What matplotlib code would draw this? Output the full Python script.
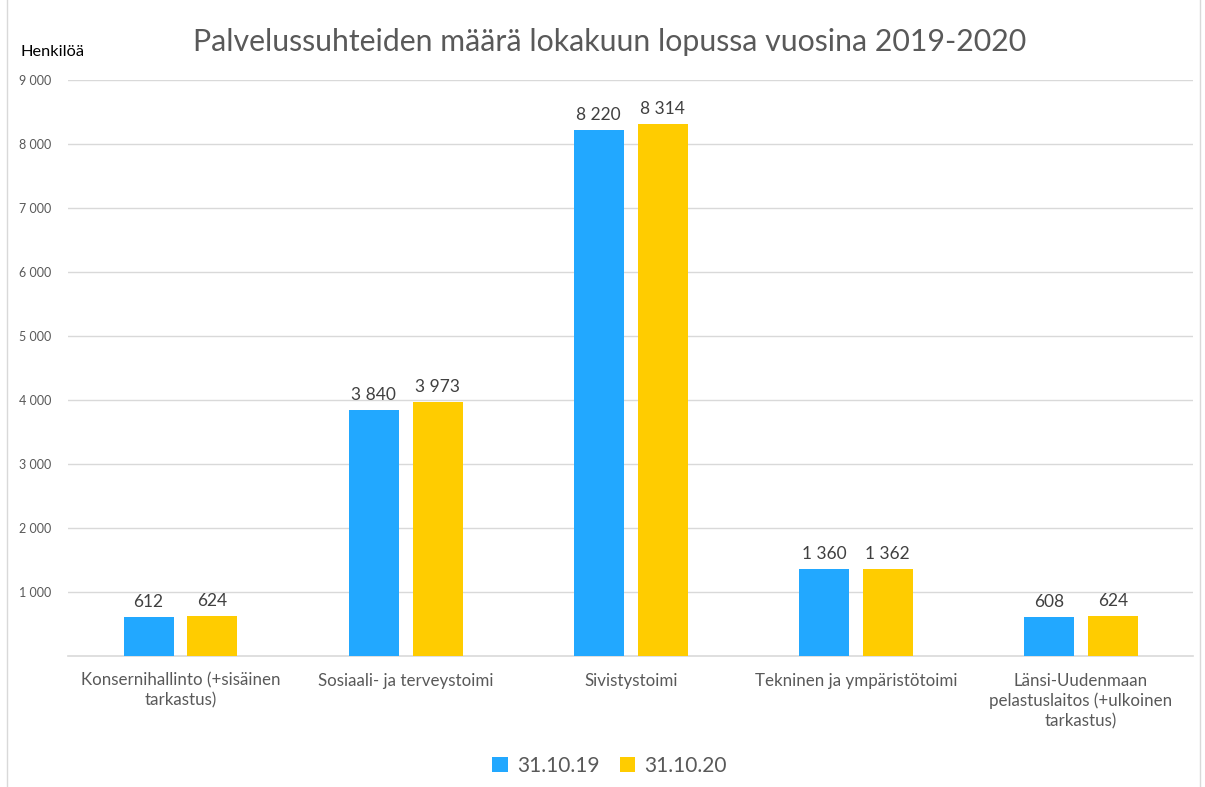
import matplotlib.pyplot as plt
import numpy as np
from matplotlib.patches import Rectangle

categories = ["Konsernihallinto (+sisäinen\ntarkastus)",
              "Sosiaali- ja terveystoimi",
              "Sivistystoimi",
              "Tekninen ja ympäristötoimi",
              "Länsi-Uudenmaan\npelastuslaitos (+ulkoinen\ntarkastus)"]
series_names = ["31.10.19", "31.10.20"]
values_2019 = [612, 3840, 8220, 1360, 608]
values_2020 = [624, 3973, 8314, 1362, 624]
y_ticks = [1000, 2000, 3000, 4000, 5000, 6000, 7000, 8000, 9000]

colors = ["#22A8FF", "#FFCC00"]
txt_grey = "#595959"

plt.rcParams['font.family'] = ['Lato', 'DejaVu Sans']

fig = plt.figure(figsize=(12.05, 7.87), dpi=100)
ax = fig.add_axes([0.0564, 0.1665, 0.934, 0.7319])

x = np.arange(len(categories))
w = 0.222
gap = 0.062
off = (w + gap) / 2
b1 = ax.bar(x - off, values_2019, w, color=colors[0], label=series_names[0], zorder=3)
b2 = ax.bar(x + off, values_2020, w, color=colors[1], label=series_names[1], zorder=3)

def fmt(v):
    return f"{v:,}".replace(",", " ")

for bars, vals in ((b1, values_2019), (b2, values_2020)):
    for r, v in zip(bars, vals):
        ax.annotate(fmt(v), (r.get_x() + r.get_width() / 2, v), xytext=(0, 5),
                    textcoords="offset points", ha="center", va="bottom",
                    fontsize=12.5, color="#404040")

ax.set_xlim(-0.5, len(categories) - 0.5)
ax.set_ylim(0, 9000)
ax.set_yticks(y_ticks)
ax.set_yticklabels([fmt(t) for t in y_ticks], fontsize=9, color=txt_grey)
ax.set_xticks(x)
ax.set_xticklabels(categories, fontsize=12.2, color=txt_grey, linespacing=1.3)
ax.tick_params(axis="both", length=0)
ax.tick_params(axis="y", pad=12)
ax.tick_params(axis="x", pad=12)
ax.grid(axis="y", color="#D9D9D9", lw=1, zorder=0)
for s in ["top", "right", "left"]:
    ax.spines[s].set_visible(False)
ax.spines["bottom"].set_color("#D9D9D9")
ax.spines["bottom"].set_linewidth(1.2)

fig.text(0.506, 0.947, "Palvelussuhteiden määrä lokakuun lopussa vuosina 2019-2020",
         ha="center", va="center", fontsize=21.8, color=txt_grey)
fig.text(0.017, 0.934, "Henkilöä", ha="left", va="center", fontsize=11.8, color="black")

fig.legend(handles=[b1, b2], loc="center", bbox_to_anchor=(0.506, 0.027), ncol=2,
           frameon=False, fontsize=15, handlelength=0.75, handleheight=0.75,
           handletextpad=0.45, columnspacing=0.95, labelcolor=txt_grey)

fig.patches.append(Rectangle((0.006, -0.01), 0.99, 1.02, transform=fig.transFigure,
                             fill=False, edgecolor="#D9D9D9", lw=1))

fig.savefig("out.png", dpi=100)
